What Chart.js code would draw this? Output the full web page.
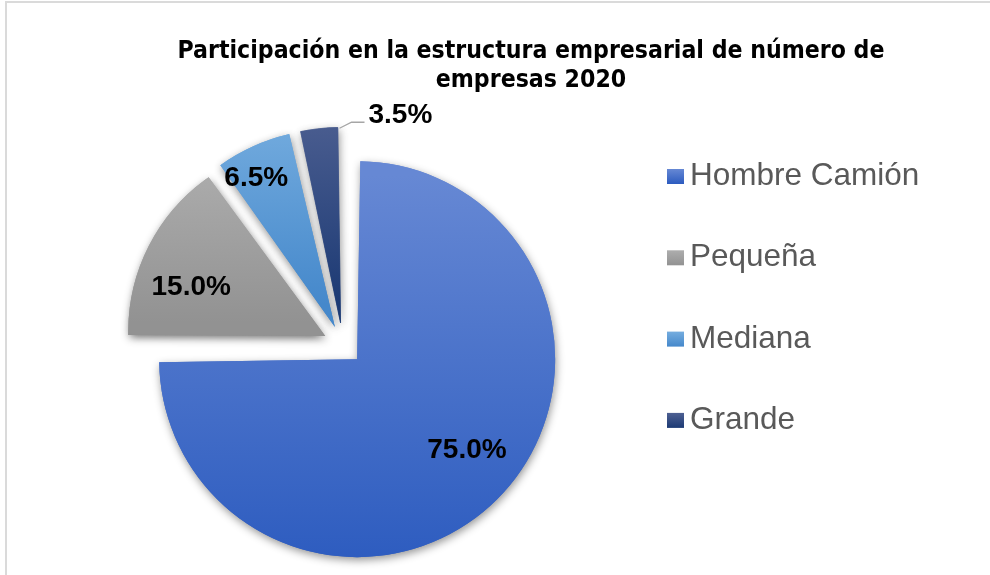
<!DOCTYPE html>
<html><head><meta charset="utf-8">
<script src="https://cdn.jsdelivr.net/npm/chart.js@4.4.0/dist/chart.umd.min.js"></script>
<style>
html,body{margin:0;padding:0;background:#fff;}
#wrap{position:relative;width:990px;height:575px;overflow:hidden;background:#fff;}
#frame{position:absolute;left:5px;top:1px;width:1000px;height:600px;border-left:2px solid #dadada;border-top:2px solid #dadada;box-sizing:border-box;pointer-events:none;}
canvas{position:absolute;left:0;top:0;}
</style></head><body>
<div id="wrap"><canvas id="c" width="990" height="575"></canvas><div id="frame"></div></div>
<script>
// ---- data ----
const titleLines = ['Participación en la estructura empresarial de número de', 'empresas 2020'];
const categories = ['Hombre Camión', 'Pequeña', 'Mediana', 'Grande'];
const shares = [75.0, 15.0, 6.5, 3.5];
const shareLabels = ['75.0%', '15.0%', '6.5%', '3.5%'];

// ---- style ----
const colorTop = ['#6688d4', '#adadad', '#75addf', '#4e6092'];
const colorBottom = ['#2c5bbf', '#929292', '#4588cb', '#1c3a74'];
const R = 178;
const sliceOffsets = [80, 119.4, 97.6, 89];
const sliceBorders = [0, 8.9, 1.8, 0.5];

function sliceGeom(chart, i) {
  const ca = chart.chartArea;
  const total = shares.reduce((a, b) => a + b, 0);
  let start = -Math.PI / 2;
  for (let k = 0; k < i; k++) start += shares[k] / total * 2 * Math.PI;
  const end = start + shares[i] / total * 2 * Math.PI;
  const cx = (ca.left + ca.right) / 2, cy = (ca.top + ca.bottom) / 2;
  const t = sliceOffsets[i] / 4;
  const fix = 1 - Math.sin(Math.min(Math.PI, end - start));
  const mid = (start + end) / 2;
  const b = sliceBorders[i] / 2;
  const back = b / Math.sin((end - start) / 2);
  const vx = cx + Math.cos(mid) * t, vy = cy + Math.sin(mid) * t;
  return {start, end,
          ox: vx - Math.cos(mid) * back, oy: vy - Math.sin(mid) * back,
          r: R + t * fix + b + back};
}

function sliceGradient(c) {
  const chart = c.chart;
  const i = c.dataIndex;
  if (!chart.chartArea || i === undefined) return colorBottom[i || 0];
  const g = sliceGeom(chart, i);
  let ymin = g.oy, ymax = g.oy;
  for (let s = 0; s <= 60; s++) {
    const a = g.start + (g.end - g.start) * s / 60;
    const y = g.oy + Math.sin(a) * g.r;
    ymin = Math.min(ymin, y); ymax = Math.max(ymax, y);
  }
  const grad = chart.ctx.createLinearGradient(0, ymin, 0, ymax);
  grad.addColorStop(0, colorTop[i]);
  grad.addColorStop(1, colorBottom[i]);
  return grad;
}

// shadow pass: draw the arcs once with a drop shadow, the normal pass then covers them
const shadowPlugin = {
  id: 'shadowPlugin',
  beforeDatasetsDraw(chart) {
    const ctx = chart.ctx;
    const meta = chart.getDatasetMeta(0);
    ctx.save();
    ctx.shadowColor = 'rgba(0,0,0,0.42)';
    ctx.shadowBlur = 9;
    ctx.shadowOffsetX = 1;
    ctx.shadowOffsetY = 3;
    meta.data.forEach(el => el.draw(ctx, chart.chartArea));
    ctx.restore();
  }
};

const labelAngleFrac = [0.48, 0.37, 0.35];
const labelRadiusFrac = [0.72, 0.72, 0.85];

const decorPlugin = {
  id: 'decorPlugin',
  afterDraw(chart) {
    const ctx = chart.ctx;
    const meta = chart.getDatasetMeta(0);
    ctx.save();
    // title
    ctx.fillStyle = '#000';
    ctx.textAlign = 'center';
    ctx.textBaseline = 'alphabetic';
    ctx.font = 'bold 24.6px "Liberation Sans Narrow", "Arial Narrow", "DejaVu Sans Condensed", sans-serif';
    ctx.fillText(titleLines[0], 531, 58);
    ctx.fillText(titleLines[1], 531, 87);

    // data labels
    ctx.font = 'bold 28px "Liberation Sans", Arial, sans-serif';
    ctx.fillStyle = '#000';
    meta.data.forEach((el, i) => {
      const g = sliceGeom(chart, i);
      const circ = g.end - g.start;
      if (i < labelAngleFrac.length) {
        const a = g.start + circ * labelAngleFrac[i];
        const lx = g.ox + Math.cos(a) * g.r * labelRadiusFrac[i];
        const ly = g.oy + Math.sin(a) * g.r * labelRadiusFrac[i];
        ctx.textAlign = 'center';
        ctx.textBaseline = 'middle';
        ctx.fillText(shareLabels[i], lx, ly);
      } else {
        const a = g.start + circ * 0.97;
        const sx = g.ox + Math.cos(a) * (g.r - 1), sy = g.oy + Math.sin(a) * (g.r - 1);
        ctx.strokeStyle = '#a6a6a6';
        ctx.lineWidth = 1.3;
        ctx.beginPath();
        ctx.moveTo(sx, sy);
        ctx.lineTo(sx + 12, sy - 6);
        ctx.lineTo(sx + 25, sy - 6);
        ctx.stroke();
        ctx.textAlign = 'left';
        ctx.textBaseline = 'alphabetic';
        ctx.fillText(shareLabels[i], sx + 29, sy - 5);
      }
    });

    // legend
    ctx.font = '31.5px "Liberation Sans", Arial, sans-serif';
    ctx.textAlign = 'left';
    ctx.textBaseline = 'alphabetic';
    categories.forEach((name, i) => {
      const base = 185 + i * 81.3;
      const gr = ctx.createLinearGradient(0, base - 16, 0, base - 1);
      gr.addColorStop(0, colorTop[i]);
      gr.addColorStop(1, colorBottom[i]);
      ctx.fillStyle = gr;
      ctx.fillRect(667, base - 16, 17, 15);
      ctx.fillStyle = '#595959';
      ctx.fillText(name, 690, base);
    });
    ctx.restore();
  }
};

new Chart(document.getElementById('c'), {
  type: 'pie',
  data: {
    labels: categories,
    datasets: [{
      data: shares,
      backgroundColor: sliceGradient,
      borderColor: sliceGradient,
      borderWidth: sliceBorders,
      borderJoinStyle: 'miter',
      offset: sliceOffsets,
      hoverOffset: 0
    }]
  },
  options: {
    responsive: false,
    animation: false,
    events: [],
    radius: R,
    layout: {padding: {left: 0, right: 304, top: 115, bottom: 0}},
    plugins: {legend: {display: false}, title: {display: false}, tooltip: {enabled: false}}
  },
  plugins: [shadowPlugin, decorPlugin]
});
</script>
</body></html>
